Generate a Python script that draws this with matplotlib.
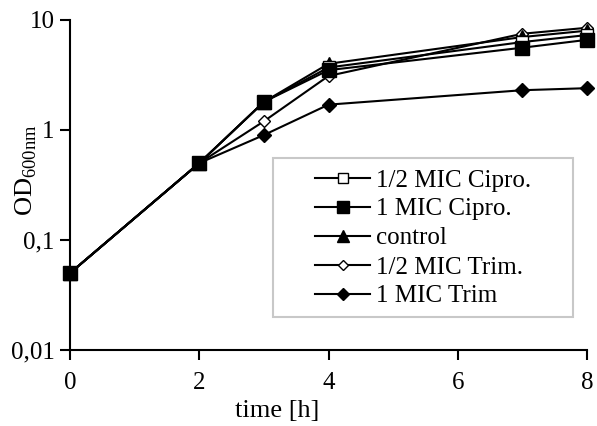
import numpy as np
import matplotlib
matplotlib.use("Agg")
import matplotlib.pyplot as plt
from matplotlib.patches import Rectangle

plt.rcParams['font.family'] = 'Liberation Serif'
plt.rcParams['mathtext.fontset'] = 'custom'
plt.rcParams['mathtext.rm'] = 'Liberation Serif'

# time points (h) and OD600 readings
time_h = [0, 2, 3, 4, 7, 8]
half_mic_cipro = [0.05, 0.5, 1.8, 3.7, 6.3, 7.3]
one_mic_cipro = [0.05, 0.5, 1.8, 3.5, 5.6, 6.6]
control = [0.05, 0.5, 1.8, 4.0, 7.0, 8.0]
half_mic_trim = [0.05, 0.5, 1.2, 3.1, 7.5, 8.5]
one_mic_trim = [0.05, 0.5, 0.9, 1.7, 2.3, 2.4]

labels = ['1/2 MIC Cipro.', '1 MIC Cipro.', 'control', '1/2 MIC Trim.', '1 MIC Trim']
yticks = [0.01, 0.1, 1, 10]
ytick_labels = ['0,01', '0,1', '1', '10']
xticks = [0, 2, 4, 6, 8]

fig = plt.figure(figsize=(5.97, 4.26), dpi=100)
ax = fig.add_axes([70 / 597, 76 / 426, 517 / 597, 330 / 426])

kw = dict(color='black', linewidth=1.5, clip_on=False)
h5, = ax.plot(time_h, one_mic_trim, marker='D', markersize=7.5, markerfacecolor='black', zorder=3, **kw)
h4, = ax.plot(time_h, half_mic_trim, marker='D', markersize=6.5, markerfacecolor='white', zorder=4, **kw)
h3, = ax.plot(time_h, control, marker='^', markersize=10, markerfacecolor='black', zorder=5, **kw)
h1, = ax.plot(time_h, half_mic_cipro, marker='s', markersize=9, markerfacecolor='white', zorder=6, **kw)
h2, = ax.plot(time_h, one_mic_cipro, marker='s', markersize=10, markerfacecolor='black', zorder=7, **kw)

ax.set_yscale('log')
ax.set_ylim(0.01, 10)
ax.set_xlim(0, 8)
ax.set_yticks(yticks)
ax.set_yticklabels(ytick_labels)
ax.yaxis.set_minor_locator(matplotlib.ticker.NullLocator())
ax.set_xticks(xticks)

for s in ['top', 'right']:
    ax.spines[s].set_visible(False)
for s in ['left', 'bottom']:
    ax.spines[s].set_linewidth(1.5)
ax.tick_params(axis='both', which='major', direction='out', length=7, width=1.5, labelsize=18)
ax.tick_params(axis='x', pad=9)
ax.tick_params(axis='y', pad=4)

ax.set_xlabel('time [h]', fontsize=19)
ax.xaxis.set_label_coords(207 / 517, -50 / 330)
ax.set_ylabel('OD$_{\\mathrm{600nm}}$', fontsize=19)
ax.yaxis.set_label_coords(-31 / 517, 180 / 330)

# legend frame drawn separately (wider padding left/right than top/bottom)
ax.add_patch(Rectangle((203 / 517, 33 / 330), 300 / 517, 159 / 330,
                       transform=ax.transAxes, facecolor='white',
                       edgecolor='#c8c8c8', linewidth=1.5, zorder=8, clip_on=False))
leg = ax.legend([h1, h2, h3, h4, h5], labels, loc='upper left',
                bbox_to_anchor=(245 / 517, 181 / 330), fontsize=18,
                frameon=False, handlelength=2.2, borderpad=0, borderaxespad=0,
                handletextpad=0.25, labelspacing=0.26, markerscale=0.85)
leg.set_zorder(9)

fig.savefig('out.png', dpi=100)
